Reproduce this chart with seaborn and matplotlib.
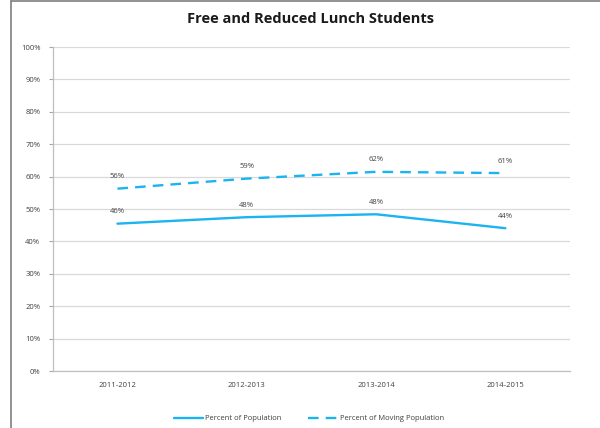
import pandas as pd
import matplotlib.pyplot as plt
import seaborn as sns
from matplotlib.lines import Line2D

# chart data
years = ['2011-2012', '2012-2013', '2013-2014', '2014-2015']
pct_population = [0.455, 0.475, 0.484, 0.441]
pct_moving = [0.563, 0.594, 0.615, 0.611]
series_names = ['Percent of Population', 'Percent of Moving Population']

blue = '#1BB3F0'
text_gray = '#404040'

df = pd.DataFrame({
    'year': years * 2,
    'pos': list(range(len(years))) * 2,
    'value': pct_population + pct_moving,
    'series': [series_names[0]] * len(years) + [series_names[1]] * len(years),
})

sns.set_style("white")
plt.rcParams['font.family'] = ['Open Sans', 'DejaVu Sans']

fig = plt.figure(figsize=(6, 4.28), dpi=100)
ax = fig.add_axes([0.088, 0.133, 0.862, 0.757])

sns.lineplot(data=df[df.series == series_names[0]], x='pos', y='value', color=blue,
             linewidth=1.7, ax=ax, legend=False)
sns.lineplot(data=df[df.series == series_names[1]], x='pos', y='value', color=blue,
             linewidth=1.7, linestyle=(0, (4.5, 3)), ax=ax, legend=False)

# data labels
for i, v in enumerate(pct_population):
    ax.annotate(f'{round(v * 100):.0f}%', (i, v), xytext=(0, 6), textcoords='offset points',
                ha='center', va='bottom', fontsize=5.5, color=text_gray)
for i, v in enumerate(pct_moving):
    ax.annotate(f'{round(v * 100):.0f}%', (i, v), xytext=(0, 6), textcoords='offset points',
                ha='center', va='bottom', fontsize=5.5, color=text_gray)

ax.set_xlim(-0.5, len(years) - 0.5)
ax.set_ylim(0, 1)
ax.set_yticks([i / 10 for i in range(11)])
ax.set_yticklabels([f'{i * 10}%' for i in range(11)], fontsize=5.5, color=text_gray)
ax.set_xticks(range(len(years)))
ax.set_xticklabels(years, fontsize=5.5, color=text_gray)
ax.set_xticks([i - 0.5 for i in range(len(years) + 1)], minor=True)
ax.tick_params(axis='x', which='major', length=0, pad=8)
ax.tick_params(axis='x', which='minor', length=3, color='#A6A6A6', width=0.8)
ax.tick_params(axis='y', length=3, color='#A6A6A6', width=0.8, pad=6, left=True)
ax.set_xlabel('')
ax.set_ylabel('')
ax.grid(axis='y', color='#D9D9D9', linewidth=0.9)
ax.grid(axis='x', visible=False)
for side in ['top', 'right']:
    ax.spines[side].set_visible(False)
for side in ['left', 'bottom']:
    ax.spines[side].set_color('#BFBFBF')
    ax.spines[side].set_linewidth(0.9)

fig.text(0.517, 0.955, 'Free and Reduced Lunch Students', ha='center', va='center',
         fontsize=10.5, fontweight='bold', color='#1a1a1a')

handles = [Line2D([], [], color=blue, linewidth=1.7),
           Line2D([], [], color=blue, linewidth=1.7, linestyle=(0, (4.5, 3)))]
fig.legend(handles, series_names, loc='center', bbox_to_anchor=(0.515, 0.022), ncol=2,
           frameon=False, fontsize=5.5, handlelength=3.8, handletextpad=0.3, columnspacing=3.5,
           labelcolor=text_gray)

# outer frame lines of the screenshot
fig.add_artist(Line2D([0.019, 0.019], [0, 0.998], color='#7F7F7F', linewidth=1.2,
                      transform=fig.transFigure))
fig.add_artist(Line2D([0.019, 1], [0.997, 0.997], color='#7F7F7F', linewidth=1.2,
                      transform=fig.transFigure))

plt.savefig('out.png', dpi=100)
